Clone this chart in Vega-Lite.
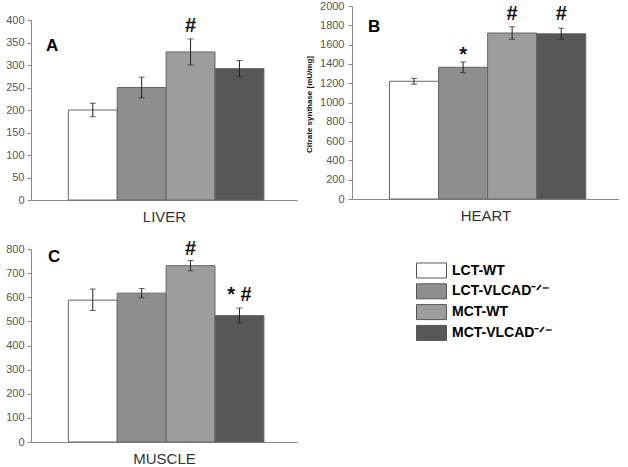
{
  "$schema": "https://vega.github.io/schema/vega-lite/v6.json",
  "background": "white",
  "padding": {"left": 5, "top": 0, "right": 0, "bottom": 0},
  "datasets": {
    "bars": [
      {"panel": "A", "group": "LCT-WT", "mean": 200, "lo": 185, "hi": 215},
      {"panel": "A", "group": "LCT-VLCAD⁻ᐟ⁻", "mean": 250, "lo": 227, "hi": 273},
      {"panel": "A", "group": "MCT-WT", "mean": 329, "lo": 300, "hi": 358},
      {"panel": "A", "group": "MCT-VLCAD⁻ᐟ⁻", "mean": 292, "lo": 274, "hi": 310},
      {"panel": "B", "group": "LCT-WT", "mean": 1220, "lo": 1190, "hi": 1250},
      {"panel": "B", "group": "LCT-VLCAD⁻ᐟ⁻", "mean": 1365, "lo": 1310, "hi": 1420},
      {"panel": "B", "group": "MCT-WT", "mean": 1720, "lo": 1655, "hi": 1785},
      {"panel": "B", "group": "MCT-VLCAD⁻ᐟ⁻", "mean": 1712, "lo": 1655, "hi": 1770},
      {"panel": "C", "group": "LCT-WT", "mean": 588, "lo": 545, "hi": 634},
      {"panel": "C", "group": "LCT-VLCAD⁻ᐟ⁻", "mean": 617, "lo": 598, "hi": 636},
      {"panel": "C", "group": "MCT-WT", "mean": 731, "lo": 710, "hi": 752},
      {"panel": "C", "group": "MCT-VLCAD⁻ᐟ⁻", "mean": 524, "lo": 494, "hi": 555}
    ],
    "sig": [
      {"panel": "A", "group": "MCT-WT", "sig": "#", "y": 373},
      {"panel": "B", "group": "LCT-VLCAD⁻ᐟ⁻", "sig": "*", "y": 1430},
      {"panel": "B", "group": "MCT-WT", "sig": "#", "y": 1852},
      {"panel": "B", "group": "MCT-VLCAD⁻ᐟ⁻", "sig": "#", "y": 1852},
      {"panel": "C", "group": "MCT-WT", "sig": "#", "y": 775},
      {"panel": "C", "group": "MCT-VLCAD⁻ᐟ⁻", "sig": "* #", "y": 585}
    ]
  },
  "config": {
    "view": {"stroke": null},
    "font": "Liberation Sans",
    "axis": {"grid": false, "domainColor": "#888", "tickColor": "#888", "labelColor": "#555", "labelFontSize": 11, "labelFont": "Liberation Sans", "tickSize": 4, "labelPadding": 3, "format": "d", "labelOverlap": false},
    "legend": {
      "orient": "none", "legendX": 392.5, "legendY": 256.5,
      "symbolType": "M-2,-1H2V1H-2Z", "symbolSize": 225,
      "symbolStrokeColor": "#555", "symbolStrokeWidth": 1, "symbolOpacity": 1,
      "labelFont": "Liberation Sans", "labelFontSize": 14, "labelFontWeight": "bold", "labelColor": "black",
      "labelOffset": 12.5, "rowPadding": 0.8
    }
  },
  "resolve": {"scale": {"x": "independent", "y": "independent"}},
  "bounds": "flush",
  "spacing": {"row": 49, "column": 55},
  "columns": 2,
  "concat": [
    {
      "width": 266, "height": 194,
      "title": {"text": "A", "anchor": "start", "frame": "group", "orient": "top", "fontSize": 17, "fontWeight": "bold", "font": "Liberation Sans", "color": "black", "offset": -20, "dx": 15, "dy": 42, "baseline": "alphabetic"},
      "layer": [
        {
          "data": {"name": "bars"}, "transform": [{"filter": "datum.panel === 'A'"}],
          "mark": {"type": "bar", "stroke": "#666", "strokeWidth": 1},
          "encoding": {
            "x": {"field": "group", "type": "nominal", "scale": {"domain": ["LCT-WT", "LCT-VLCAD⁻ᐟ⁻", "MCT-WT", "MCT-VLCAD⁻ᐟ⁻"], "paddingInner": 0, "paddingOuter": 0.72, "align": 0.53},
                  "axis": {"title": "LIVER", "labels": false, "ticks": false, "titleFontSize": 15, "titleFontWeight": "normal", "titleColor": "#333", "titlePadding": 9}},
            "y": {"field": "mean", "type": "quantitative", "scale": {"domain": [0, 400], "range": [194, 14]}, "axis": {"title": null, "values": [0, 50, 100, 150, 200, 250, 300, 350, 400]}},
            "fill": {"field": "group", "type": "nominal", "scale": {"domain": ["LCT-WT", "LCT-VLCAD⁻ᐟ⁻", "MCT-WT", "MCT-VLCAD⁻ᐟ⁻"], "range": ["#ffffff", "#8e8e8e", "#9d9d9d", "#575757"]}, "legend": {"title": null}}
          }
        },
        {
          "data": {"name": "bars"}, "transform": [{"filter": "datum.panel === 'A'"}],
          "mark": {"type": "rule", "color": "#222", "strokeWidth": 1},
          "encoding": {"x": {"field": "group", "type": "nominal", "axis": {"title": "LIVER", "labels": false, "ticks": false, "titleFontSize": 15, "titleFontWeight": "normal", "titleColor": "#333", "titlePadding": 9}},
                       "y": {"field": "lo", "type": "quantitative", "axis": {"title": null, "values": [0, 50, 100, 150, 200, 250, 300, 350, 400]}}, "y2": {"field": "hi"}}
        },
        {
          "data": {"name": "bars"}, "transform": [{"filter": "datum.panel === 'A'"}],
          "mark": {"type": "tick", "color": "#222", "size": 6, "thickness": 1},
          "encoding": {"x": {"field": "group", "type": "nominal", "axis": {"title": "LIVER", "labels": false, "ticks": false, "titleFontSize": 15, "titleFontWeight": "normal", "titleColor": "#333", "titlePadding": 9}},
                       "y": {"field": "lo", "type": "quantitative", "axis": {"title": null, "values": [0, 50, 100, 150, 200, 250, 300, 350, 400]}}}
        },
        {
          "data": {"name": "bars"}, "transform": [{"filter": "datum.panel === 'A'"}],
          "mark": {"type": "tick", "color": "#222", "size": 6, "thickness": 1},
          "encoding": {"x": {"field": "group", "type": "nominal", "axis": {"title": "LIVER", "labels": false, "ticks": false, "titleFontSize": 15, "titleFontWeight": "normal", "titleColor": "#333", "titlePadding": 9}},
                       "y": {"field": "hi", "type": "quantitative", "axis": {"title": null, "values": [0, 50, 100, 150, 200, 250, 300, 350, 400]}}}
        },
        {
          "data": {"name": "sig"}, "transform": [{"filter": "datum.panel === 'A'"}],
          "mark": {"type": "text", "font": "Liberation Sans", "fontSize": 20, "fontWeight": "bold", "color": "#111", "baseline": "alphabetic"},
          "encoding": {"x": {"field": "group", "type": "nominal", "axis": {"title": "LIVER", "labels": false, "ticks": false, "titleFontSize": 15, "titleFontWeight": "normal", "titleColor": "#333", "titlePadding": 9}},
                       "y": {"field": "y", "type": "quantitative", "axis": {"title": null, "values": [0, 50, 100, 150, 200, 250, 300, 350, 400]}}, "text": {"field": "sig"}}
        }
      ]
    },
    {
      "width": 267, "height": 193,
      "title": {"text": "B", "anchor": "start", "frame": "group", "orient": "top", "fontSize": 17, "fontWeight": "bold", "font": "Liberation Sans", "color": "black", "offset": -22, "dx": 16, "dy": 27, "baseline": "alphabetic"},
      "layer": [
        {
          "data": {"name": "bars"}, "transform": [{"filter": "datum.panel === 'B'"}],
          "mark": {"type": "bar", "stroke": "#666", "strokeWidth": 1},
          "encoding": {
            "x": {"field": "group", "type": "nominal", "scale": {"domain": ["LCT-WT", "LCT-VLCAD⁻ᐟ⁻", "MCT-WT", "MCT-VLCAD⁻ᐟ⁻"], "paddingInner": 0, "paddingOuter": 0.72, "align": 0.53},
                  "axis": {"title": "HEART", "labels": false, "ticks": false, "titleFontSize": 15, "titleFontWeight": "normal", "titleColor": "#333", "titlePadding": 9}},
            "y": {"field": "mean", "type": "quantitative", "scale": {"domain": [0, 2000]},
                  "axis": {"title": "Citrate synthase [mU/mg]", "titleFontSize": 8, "titleFontWeight": "bold", "titleColor": "#111", "titlePadding": 6, "titleY": 98, "labelPadding": 4, "values": [0, 200, 400, 600, 800, 1000, 1200, 1400, 1600, 1800, 2000]}},
            "fill": {"field": "group", "type": "nominal", "scale": {"domain": ["LCT-WT", "LCT-VLCAD⁻ᐟ⁻", "MCT-WT", "MCT-VLCAD⁻ᐟ⁻"], "range": ["#ffffff", "#8e8e8e", "#9d9d9d", "#575757"]}, "legend": {"title": null}}
          }
        },
        {
          "data": {"name": "bars"}, "transform": [{"filter": "datum.panel === 'B'"}],
          "mark": {"type": "rule", "color": "#222", "strokeWidth": 1},
          "encoding": {"x": {"field": "group", "type": "nominal", "axis": {"title": "HEART", "labels": false, "ticks": false, "titleFontSize": 15, "titleFontWeight": "normal", "titleColor": "#333", "titlePadding": 9}},
                       "y": {"field": "lo", "type": "quantitative", "axis": {"title": "Citrate synthase [mU/mg]", "titleFontSize": 8, "titleFontWeight": "bold", "titleColor": "#111", "titlePadding": 6, "titleY": 98, "labelPadding": 4, "values": [0, 200, 400, 600, 800, 1000, 1200, 1400, 1600, 1800, 2000]}}, "y2": {"field": "hi"}}
        },
        {
          "data": {"name": "bars"}, "transform": [{"filter": "datum.panel === 'B'"}],
          "mark": {"type": "tick", "color": "#222", "size": 6, "thickness": 1},
          "encoding": {"x": {"field": "group", "type": "nominal", "axis": {"title": "HEART", "labels": false, "ticks": false, "titleFontSize": 15, "titleFontWeight": "normal", "titleColor": "#333", "titlePadding": 9}},
                       "y": {"field": "lo", "type": "quantitative", "axis": {"title": "Citrate synthase [mU/mg]", "titleFontSize": 8, "titleFontWeight": "bold", "titleColor": "#111", "titlePadding": 6, "titleY": 98, "labelPadding": 4, "values": [0, 200, 400, 600, 800, 1000, 1200, 1400, 1600, 1800, 2000]}}}
        },
        {
          "data": {"name": "bars"}, "transform": [{"filter": "datum.panel === 'B'"}],
          "mark": {"type": "tick", "color": "#222", "size": 6, "thickness": 1},
          "encoding": {"x": {"field": "group", "type": "nominal", "axis": {"title": "HEART", "labels": false, "ticks": false, "titleFontSize": 15, "titleFontWeight": "normal", "titleColor": "#333", "titlePadding": 9}},
                       "y": {"field": "hi", "type": "quantitative", "axis": {"title": "Citrate synthase [mU/mg]", "titleFontSize": 8, "titleFontWeight": "bold", "titleColor": "#111", "titlePadding": 6, "titleY": 98, "labelPadding": 4, "values": [0, 200, 400, 600, 800, 1000, 1200, 1400, 1600, 1800, 2000]}}}
        },
        {
          "data": {"name": "sig"}, "transform": [{"filter": "datum.panel === 'B'"}],
          "mark": {"type": "text", "font": "Liberation Sans", "fontSize": 20, "fontWeight": "bold", "color": "#111", "baseline": "alphabetic"},
          "encoding": {"x": {"field": "group", "type": "nominal", "axis": {"title": "HEART", "labels": false, "ticks": false, "titleFontSize": 15, "titleFontWeight": "normal", "titleColor": "#333", "titlePadding": 9}},
                       "y": {"field": "y", "type": "quantitative", "axis": {"title": "Citrate synthase [mU/mg]", "titleFontSize": 8, "titleFontWeight": "bold", "titleColor": "#111", "titlePadding": 6, "titleY": 98, "labelPadding": 4, "values": [0, 200, 400, 600, 800, 1000, 1200, 1400, 1600, 1800, 2000]}}, "text": {"field": "sig"}}
        }
      ]
    },
    {
      "width": 266, "height": 193,
      "title": {"text": "C", "anchor": "start", "frame": "group", "orient": "top", "fontSize": 17, "fontWeight": "bold", "font": "Liberation Sans", "color": "black", "offset": -25, "dx": 17, "dy": 15, "baseline": "alphabetic"},
      "layer": [
        {
          "data": {"name": "bars"}, "transform": [{"filter": "datum.panel === 'C'"}],
          "mark": {"type": "bar", "stroke": "#666", "strokeWidth": 1},
          "encoding": {
            "x": {"field": "group", "type": "nominal", "scale": {"domain": ["LCT-WT", "LCT-VLCAD⁻ᐟ⁻", "MCT-WT", "MCT-VLCAD⁻ᐟ⁻"], "paddingInner": 0, "paddingOuter": 0.72, "align": 0.53},
                  "axis": {"title": "MUSCLE", "labels": false, "ticks": false, "titleFontSize": 15, "titleFontWeight": "normal", "titleColor": "#333", "titlePadding": 9}},
            "y": {"field": "mean", "type": "quantitative", "scale": {"domain": [0, 800]}, "axis": {"title": null, "values": [0, 100, 200, 300, 400, 500, 600, 700, 800]}},
            "fill": {"field": "group", "type": "nominal", "scale": {"domain": ["LCT-WT", "LCT-VLCAD⁻ᐟ⁻", "MCT-WT", "MCT-VLCAD⁻ᐟ⁻"], "range": ["#ffffff", "#8e8e8e", "#9d9d9d", "#575757"]}, "legend": {"title": null}}
          }
        },
        {
          "data": {"name": "bars"}, "transform": [{"filter": "datum.panel === 'C'"}],
          "mark": {"type": "rule", "color": "#222", "strokeWidth": 1},
          "encoding": {"x": {"field": "group", "type": "nominal", "axis": {"title": "MUSCLE", "labels": false, "ticks": false, "titleFontSize": 15, "titleFontWeight": "normal", "titleColor": "#333", "titlePadding": 9}},
                       "y": {"field": "lo", "type": "quantitative", "axis": {"title": null, "values": [0, 100, 200, 300, 400, 500, 600, 700, 800]}}, "y2": {"field": "hi"}}
        },
        {
          "data": {"name": "bars"}, "transform": [{"filter": "datum.panel === 'C'"}],
          "mark": {"type": "tick", "color": "#222", "size": 6, "thickness": 1},
          "encoding": {"x": {"field": "group", "type": "nominal", "axis": {"title": "MUSCLE", "labels": false, "ticks": false, "titleFontSize": 15, "titleFontWeight": "normal", "titleColor": "#333", "titlePadding": 9}},
                       "y": {"field": "lo", "type": "quantitative", "axis": {"title": null, "values": [0, 100, 200, 300, 400, 500, 600, 700, 800]}}}
        },
        {
          "data": {"name": "bars"}, "transform": [{"filter": "datum.panel === 'C'"}],
          "mark": {"type": "tick", "color": "#222", "size": 6, "thickness": 1},
          "encoding": {"x": {"field": "group", "type": "nominal", "axis": {"title": "MUSCLE", "labels": false, "ticks": false, "titleFontSize": 15, "titleFontWeight": "normal", "titleColor": "#333", "titlePadding": 9}},
                       "y": {"field": "hi", "type": "quantitative", "axis": {"title": null, "values": [0, 100, 200, 300, 400, 500, 600, 700, 800]}}}
        },
        {
          "data": {"name": "sig"}, "transform": [{"filter": "datum.panel === 'C'"}],
          "mark": {"type": "text", "font": "Liberation Sans", "fontSize": 20, "fontWeight": "bold", "color": "#111", "baseline": "alphabetic"},
          "encoding": {"x": {"field": "group", "type": "nominal", "axis": {"title": "MUSCLE", "labels": false, "ticks": false, "titleFontSize": 15, "titleFontWeight": "normal", "titleColor": "#333", "titlePadding": 9}},
                       "y": {"field": "y", "type": "quantitative", "axis": {"title": null, "values": [0, 100, 200, 300, 400, 500, 600, 700, 800]}}, "text": {"field": "sig"}}
        }
      ]
    }
  ]
}
